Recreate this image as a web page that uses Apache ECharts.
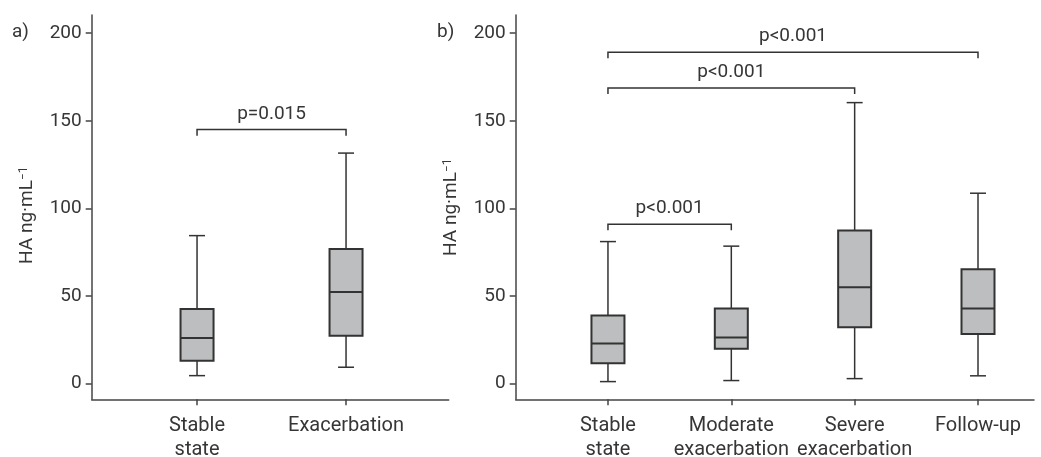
<!DOCTYPE html>
<html>
<head>
<meta charset="utf-8">
<script src="https://cdn.jsdelivr.net/npm/echarts@6/dist/echarts.min.js"></script>
<style>
  html, body { margin: 0; padding: 0; background: #fff; }
  #main { width: 1041px; height: 457px; }
</style>
</head>
<body>
<div id="main"></div>
<script>
// panel a) stable state vs exacerbation
const categoriesA = ['Stable\nstate', 'Exacerbation'];
const whiskerLowA = [4.6, 9.4];
const q1A = [13.1, 27.4];
const medianA = [26.1, 52.3];
const q3A = [42.6, 76.9];
const whiskerHighA = [84.5, 131.6];

// panel b) four groups
const categoriesB = ['Stable\nstate', 'Moderate\nexacerbation', 'Severe\nexacerbation', 'Follow-up'];
const whiskerLowB = [1.2, 1.8, 2.9, 4.5];
const q1B = [11.7, 19.9, 32.2, 28.4];
const medianB = [22.9, 26.3, 55.1, 42.9];
const q3B = [38.9, 42.9, 87.4, 65.3];
const whiskerHighB = [81.1, 78.5, 160.4, 108.7];

// significance brackets: [from group, to group], height, label
const pairsA = [[1, 2]];
const bracketLevelA = [145];
const pTextA = ['p=0.015'];
const pairsB = [[1, 2], [1, 3], [1, 4]];
const bracketLevelB = [91, 168.8, 189.2];
const pTextB = ['p<0.001', 'p<0.001', 'p<0.001'];
const bracketDrop = 3.5;

const yTicks = [0, 50, 100, 150, 200];

const FONT = 'Roboto';
const INK = '#333';
const TXT = '#363636';

function boxData (low, q1, med, q3, high) {
  return low.map((v, i) => [i + 1, v, q1[i], med[i], q3[i], high[i]]);
}

function renderBox (params, api) {
  const x = api.value(0);
  const lo = api.coord([x, api.value(1)]);
  const b1 = api.coord([x, api.value(2)]);
  const md = api.coord([x, api.value(3)]);
  const b3 = api.coord([x, api.value(4)]);
  const hi = api.coord([x, api.value(5)]);
  const cx = lo[0];
  const hw = 16.5; // half box width
  const cw = 8; // half cap width
  const thin = { stroke: INK, lineWidth: 1.5 };
  return {
    type: 'group',
    children: [
      { type: 'line', shape: { x1: cx, y1: hi[1], x2: cx, y2: b3[1] }, style: thin },
      { type: 'line', shape: { x1: cx, y1: b1[1], x2: cx, y2: lo[1] }, style: thin },
      { type: 'line', shape: { x1: cx - cw, y1: hi[1], x2: cx + cw, y2: hi[1] }, style: thin },
      { type: 'line', shape: { x1: cx - cw, y1: lo[1], x2: cx + cw, y2: lo[1] }, style: thin },
      { type: 'rect', shape: { x: cx - hw, y: b3[1], width: hw * 2, height: b1[1] - b3[1] }, style: { fill: '#bdbebf', stroke: INK, lineWidth: 2 } },
      { type: 'line', shape: { x1: cx - hw, y1: md[1], x2: cx + hw, y2: md[1] }, style: { stroke: INK, lineWidth: 2 } }
    ]
  };
}

function bracketRenderer (texts) {
  return function (params, api) {
    const a = api.coord([api.value(0), api.value(2)]);
    const b = api.coord([api.value(1), api.value(2)]);
    const foot = api.coord([api.value(0), api.value(2) - bracketDrop])[1];
    return {
      type: 'group',
      children: [
        {
          type: 'polyline',
          shape: { points: [[a[0], foot], [a[0], a[1]], [b[0], b[1]], [b[0], foot]] },
          style: { stroke: INK, lineWidth: 1.5, fill: null }
        },
        {
          type: 'text',
          style: {
            text: texts[params.dataIndex],
            x: (a[0] + b[0]) / 2,
            y: a[1] - 6,
            align: 'center',
            verticalAlign: 'bottom',
            fontSize: 19,
            fontFamily: FONT,
            fill: TXT
          }
        }
      ]
    };
  };
}

function bracketData (pairs, levels) {
  return pairs.map((p, i) => [p[0], p[1], levels[i]]);
}

function xAxisFor (gridIndex, cats, min, max) {
  const pos = cats.map((c, i) => i + 1);
  return {
    gridIndex: gridIndex,
    type: 'value',
    min: min,
    max: max,
    splitLine: { show: false },
    axisLine: { show: true, onZero: false, lineStyle: { color: '#444', width: 1.5 } },
    axisTick: { show: true, customValues: pos, length: 6, lineStyle: { color: '#444', width: 1.5 } },
    axisLabel: {
      customValues: pos,
      formatter: v => cats[Math.round(v) - 1] || '',
      fontFamily: FONT,
      fontSize: 20,
      lineHeight: 24,
      color: TXT,
      margin: 15
    }
  };
}

function yAxisFor (gridIndex, namePadding) {
  return {
    gridIndex: gridIndex,
    type: 'value',
    min: -8.9,
    max: 210.4,
    splitLine: { show: false },
    axisLine: { show: true, onZero: false, lineStyle: { color: '#444', width: 1.5 } },
    axisTick: { show: true, customValues: yTicks, length: 6, lineStyle: { color: '#444', width: 1.5 } },
    axisLabel: { customValues: yTicks, fontFamily: FONT, fontSize: 19, color: TXT, margin: 10 },
    name: '{n|HA ng·mL}{s|−1}',
    nameLocation: 'middle',
    nameGap: 55,
    nameTextStyle: {
      padding: namePadding,
      rich: {
        n: { fontFamily: FONT, fontSize: 19, color: TXT },
        s: { fontFamily: FONT, fontSize: 12, color: TXT, verticalAlign: 'top', padding: [0, 0, 6, 0] }
      }
    }
  };
}

const chart = echarts.init(document.getElementById('main'));
chart.setOption({
  animation: false,
  backgroundColor: '#fff',
  title: [
    { text: 'a)', left: 12, top: 23, padding: 0, textStyle: { fontFamily: FONT, fontSize: 19, fontWeight: 'normal', color: TXT } },
    { text: 'b)', left: 437, top: 23, padding: 0, textStyle: { fontFamily: FONT, fontSize: 19, fontWeight: 'normal', color: TXT } }
  ],
  grid: [
    { left: 91.7, right: 592.3, top: 15, bottom: 57.7, containLabel: false, outerBoundsMode: 'none' },
    { left: 515.7, right: 7, top: 15, bottom: 57.7, containLabel: false, outerBoundsMode: 'none' }
  ],
  xAxis: [
    xAxisFor(0, categoriesA, 0.293, 2.689),
    xAxisFor(1, categoriesB, 0.252, 4.454)
  ],
  yAxis: [
    yAxisFor(0, [0, 16, 0, 0]),
    yAxisFor(1, [0, 0, 0, 0])
  ],
  series: [
    {
      type: 'custom',
      xAxisIndex: 0,
      yAxisIndex: 0,
      renderItem: renderBox,
      encode: { x: 0, y: [1, 2, 3, 4, 5] },
      data: boxData(whiskerLowA, q1A, medianA, q3A, whiskerHighA)
    },
    {
      type: 'custom',
      xAxisIndex: 1,
      yAxisIndex: 1,
      renderItem: renderBox,
      encode: { x: 0, y: [1, 2, 3, 4, 5] },
      data: boxData(whiskerLowB, q1B, medianB, q3B, whiskerHighB)
    },
    {
      type: 'custom',
      xAxisIndex: 0,
      yAxisIndex: 0,
      renderItem: bracketRenderer(pTextA),
      encode: { x: [0, 1], y: 2 },
      data: bracketData(pairsA, bracketLevelA)
    },
    {
      type: 'custom',
      xAxisIndex: 1,
      yAxisIndex: 1,
      renderItem: bracketRenderer(pTextB),
      encode: { x: [0, 1], y: 2 },
      data: bracketData(pairsB, bracketLevelB)
    }
  ]
});
</script>
</body>
</html>
